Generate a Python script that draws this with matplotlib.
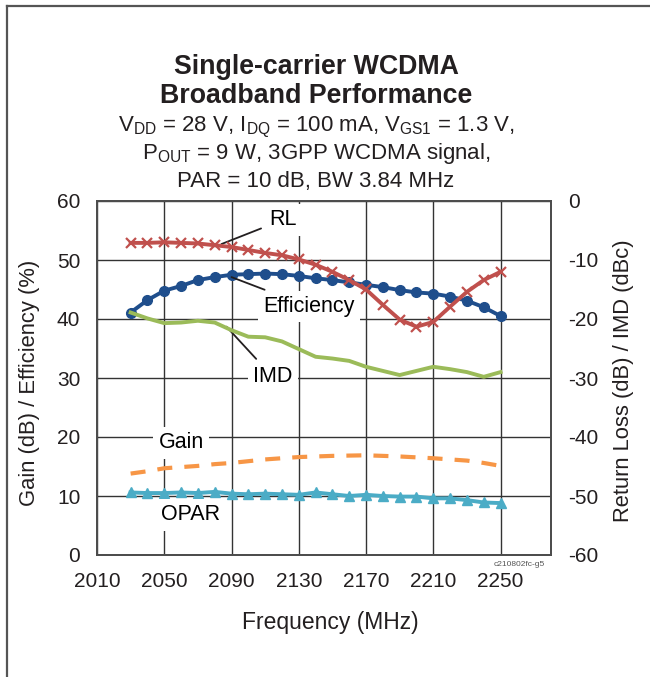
import numpy as np
import matplotlib
matplotlib.use('Agg')
import matplotlib.pyplot as plt
from matplotlib.lines import Line2D

plt.rcParams['font.family'] = ['Liberation Sans', 'DejaVu Sans']
plt.rcParams['mathtext.fontset'] = 'custom'
plt.rcParams['mathtext.rm'] = 'Liberation Sans'
plt.rcParams['mathtext.it'] = 'Liberation Sans'
plt.rcParams['axes.unicode_minus'] = False

# frequency points (MHz), every 10 MHz
freq = np.arange(2030, 2251, 10)

# left axis: Gain (dB), Efficiency (%), OPAR (dB)
efficiency = [41.1, 43.2, 44.8, 45.6, 46.6, 47.1, 47.5, 47.6, 47.7, 47.6, 47.3, 46.9,
              46.6, 46.2, 45.8, 45.4, 44.9, 44.5, 44.3, 43.8, 43.1, 42.0, 40.5]
gain = [13.8, 14.2, 14.7, 14.9, 15.1, 15.4, 15.6, 15.9, 16.2, 16.4, 16.6, 16.7,
        16.8, 16.85, 16.9, 16.8, 16.7, 16.55, 16.4, 16.2, 16.0, 15.6, 15.1]
opar = [10.6, 10.5, 10.5, 10.6, 10.5, 10.7, 10.4, 10.3, 10.4, 10.3, 10.2, 10.6,
        10.3, 10.0, 10.2, 10.0, 9.9, 9.9, 9.6, 9.6, 9.3, 8.9, 8.8]

# right axis: Return loss (dB), IMD (dBc)
rl = [-7.1, -7.1, -7.0, -7.1, -7.2, -7.5, -7.8, -8.3, -8.8, -9.2, -9.9, -10.8,
      -12.0, -13.4, -15.0, -17.6, -20.1, -21.3, -20.5, -17.9, -15.4, -13.4, -12.0]
imd = [-18.9, -19.9, -20.7, -20.6, -20.3, -20.6, -21.9, -23.0, -23.1, -23.8, -25.1, -26.4,
       -26.7, -27.1, -28.1, -28.8, -29.5, -28.8, -28.1, -28.5, -29.0, -29.8, -29.0]

xticks = [2010, 2050, 2090, 2130, 2170, 2210, 2250]
left_ticks = [0, 10, 20, 30, 40, 50, 60]
right_ticks = [-60, -50, -40, -30, -20, -10, 0]

fig = plt.figure(figsize=(6.5, 6.77), dpi=100)
ax = fig.add_axes([97/650, 1-555/677, 454/650, 354/677])
ax2 = ax.twinx()

ax.set_xlim(2010, 2280)
ax.set_ylim(0, 60)
ax2.set_ylim(-60, 0)
ax.set_xticks(xticks)
ax.set_yticks(left_ticks)
ax2.set_yticks(right_ticks)
ax.grid(True, color='#333333', lw=1.0)
for a in (ax, ax2):
    for s in a.spines.values():
        s.set_color('#4d4d4d')
        s.set_linewidth(1.3)
ax.tick_params(axis='both', length=0, labelsize=15, colors='#231f20')
ax.tick_params(axis='y', pad=12)
ax.tick_params(axis='x', pad=12)
ax2.tick_params(axis='y', length=0, labelsize=15, pad=12, colors='#231f20')

ax.plot(freq, gain, color='#F79646', lw=3, dashes=(3.6, 2.9), zorder=2.2)
ax.plot(freq, opar, color='#4BACC6', lw=2.8, marker='^', ms=7, zorder=2.3)
ax.plot(freq, efficiency, color='#1F4E8C', lw=2.8, marker='o', ms=7, zorder=2.4)
ax2.plot(freq, imd, color='#9BBB59', lw=2.8, zorder=2.2)
ax2.plot(freq, rl, color='#C0504D', lw=2.8, marker='x', ms=7, mew=1.6, zorder=2.3)

box = dict(boxstyle='square,pad=0.25', fc='white', ec='none')
arrow = dict(arrowstyle='-', color='#231f20', lw=1.3, shrinkA=2, shrinkB=0)
ax.annotate('RL', xy=(2084, 52.7), xytext=(2120.5, 56.8), fontsize=15.5, ha='center', va='center',
            bbox=box, arrowprops=arrow, zorder=4)
ax.annotate('Efficiency', xy=(2090, 47.1), xytext=(2136, 42.1), fontsize=15.5, ha='center', va='center',
            bbox=box, arrowprops=arrow, zorder=4)
ax.annotate('IMD', xy=(2087, 38.7), xytext=(2114.5, 30.2), fontsize=15.5, ha='center', va='center',
            bbox=box, arrowprops=arrow, zorder=4)
ax.text(2060, 19.0, 'Gain', fontsize=15.5, ha='center', va='center', bbox=box, zorder=4)
ax.text(2065.5, 6.8, 'OPAR', fontsize=15.5, ha='center', va='center', bbox=box, zorder=4)

fig.text(519/650, 1-564/677, 'c210802fc-g5', fontsize=6, color='#555555', ha='center', va='center')

tc = '#231f20'
cx = 316/650
fig.text(cx, 1-67/677, 'Single-carrier WCDMA', fontsize=19.3, fontweight='bold', ha='center', va='center', color=tc)
fig.text(cx, 1-96/677, 'Broadband Performance', fontsize=19.3, fontweight='bold', ha='center', va='center', color=tc)
fig.text(cx, 1-127/677, r'V$_{\mathrm{DD}}$ = 28 V, I$_{\mathrm{DQ}}$ = 100 mA, V$_{\mathrm{GS1}}$ = 1.3 V,',
         fontsize=16, ha='center', va='center', color=tc)
fig.text(cx, 1-154/677, r'P$_{\mathrm{OUT}}$ = 9 W, 3GPP WCDMA signal,', fontsize=16, ha='center', va='center', color=tc)
fig.text(cx, 1-181/677, 'PAR = 10 dB, BW 3.84 MHz', fontsize=16, ha='center', va='center', color=tc)

fig.text(30/650, 1-383/677, 'Gain (dB) / Efficiency (%)', fontsize=15.8, rotation=90,
         ha='center', va='center', color=tc)
fig.text(623/650, 1-381/677, 'Return Loss (dB) / IMD (dBc)', fontsize=15.8, rotation=90,
         ha='center', va='center', color=tc)
fig.text(330/650, 1-623/677, 'Frequency (MHz)', fontsize=16.5, ha='center', va='center', color=tc)

# outer frame (left and top edges)
fig.add_artist(Line2D([7/650, 7/650], [0, 1-6/677], transform=fig.transFigure, color='#555555', lw=1.6))
fig.add_artist(Line2D([7/650, 1], [1-6/677, 1-6/677], transform=fig.transFigure, color='#555555', lw=1.6))

fig.savefig('out.png', dpi=100)
